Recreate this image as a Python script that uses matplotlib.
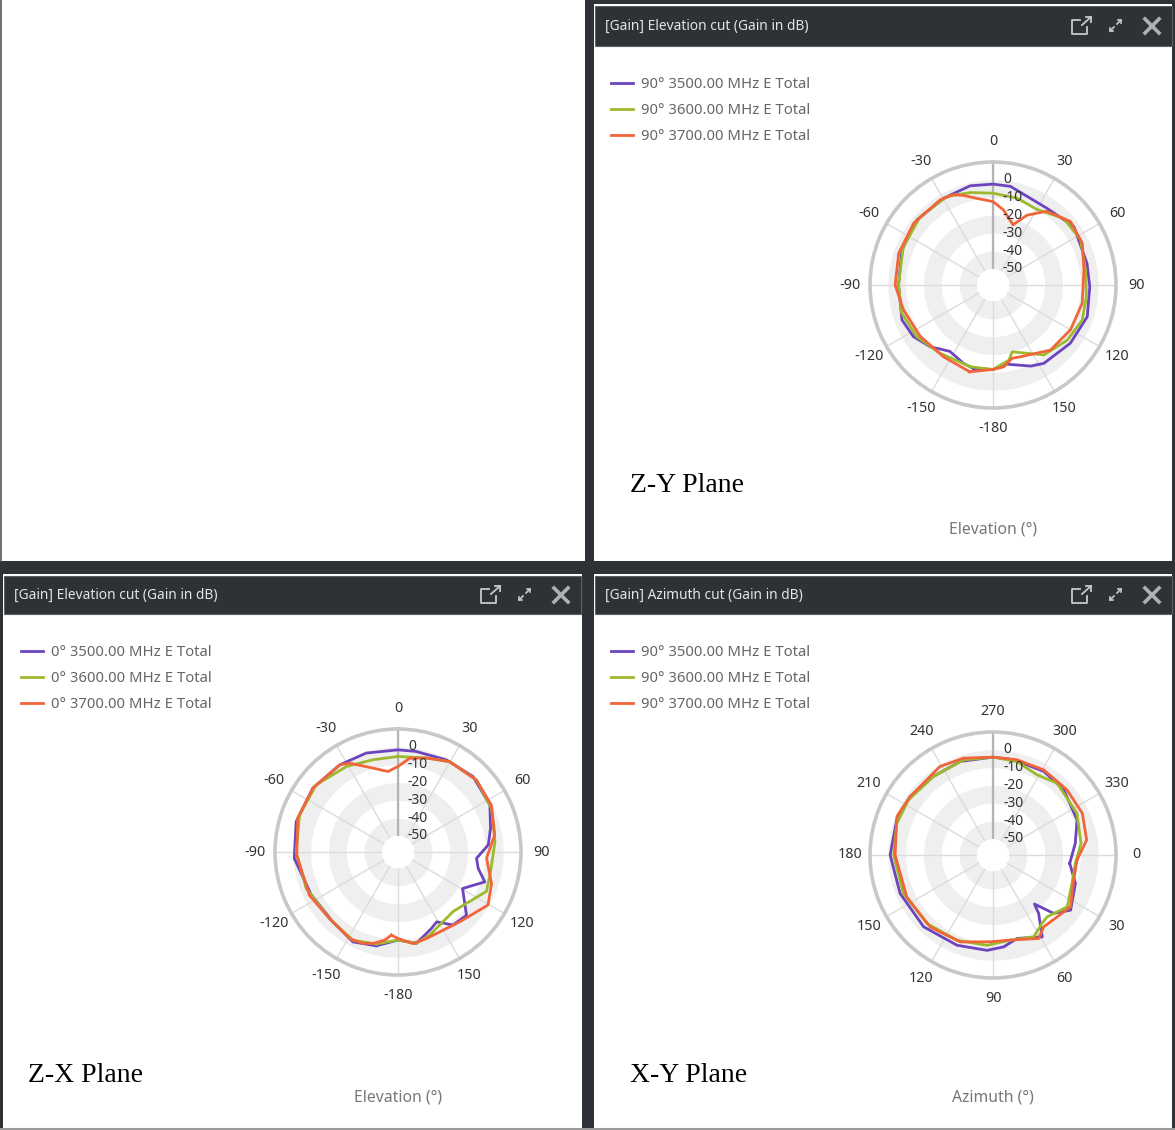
import numpy as np
import matplotlib.pyplot as plt
from matplotlib.patches import Rectangle
from matplotlib.transforms import offset_copy

# Z-Y plane (elevation cut, phi = 90), angle in deg, gain in dB
zy_ang_3500 = [-167, -159.5, -147, -134.5, -123, -111, -90, -69, -49.5, -29.6, -13, 0, 10, 35, 54, 77, 91,
               108.6, 127, 147, 155, 170, 180]
zy_gain_3500 = [-10.9, -12, -14.6, -9.6, -5.8, -4.3, -6, -4.3, -2.8, -3, -1.9, -2.4, -2.8, -6.4, -3, -4.9, -4.7,
                -3.2, -4.7, -6.6, -8.8, -13.9, -11.6]
zy_ang_3600 = [-164.5, -142, -124, -107, -90, -67, -46.8, -27.5, -13.8, 0, 15.5, 30, 46.7, 62.7, 81, 97,
               111.5, 126.6, 144, 164, 168, 180]
zy_gain_3600 = [-11.4, -10.5, -7.3, -5.4, -6, -4.3, -3, -3, -5.6, -7.5, -8.4, -10, -4.5, -3.7, -6.4, -6.2,
                -5.2, -7.1, -10.5, -20, -15.9, -11.6]
zy_ang_3700 = [-165, -145.5, -125, -105.6, -90, -71.4, -52, -31.8, -23.6, -18, -10.5, 0, 8, 18.4, 26, 36,
               50.7, 65, 80.6, 101.6, 120, 138.6, 159, 165.5, 172.5, 180]
zy_gain_3700 = [-8.6, -10.1, -9, -6.9, -4.1, -3.2, -2.6, -2.8, -3.7, -6.2, -9.6, -12.2, -16.5, -23.4, -15.4, -7.9,
                -2.8, -3.7, -7.3, -7.9, -8.8, -10.3, -15.9, -16.5, -12.7, -11.6]

# Z-X plane (elevation cut, phi = 0)
zx_ang_3500 = [-167, -153.4, -137, -116, -93.5, -73.4, -53.2, -33.8, -17.8, 0, 10, 27.7, 44.9, 62.9, 75.6,
               85.5, 94.6, 101.5, 109, 119.5, 132.7, 143, 151, 156.4, 168.6, 180]
zx_gain_3500 = [-5, -2.6, -5.4, -4.7, -0.7, 0.6, 0.7, -0.2, -0.7, -1.7, -1.7, -0.6, 0.7, -1.1, -5.4,
                -8.2, -14.8, -13.1, -7.5, -17.4, -6.7, -7.7, -14.2, -12.2, -6.7, -9.6]
zx_ang_3600 = [-166.7, -153, -134, -111.6, -90, -69.4, -50.6, -31, -15, 0, 16.8, 29.8, 47.4, 65, 84, 104,
               114, 137, 159, 168.6, 180]
zx_gain_3600 = [-6, -3.4, -5.4, -3.6, -1.9, 0, 0.4, -3, -5.4, -5.4, -3.9, -0.6, 0.7, -1.1, -4.3, -5.8,
                -4.7, -13.5, -9.2, -6.7, -9.6]
zx_ang_3700 = [-175.4, -171.4, -164.7, -159, -151, -134, -116, -91.9, -71.4, -53, -33.8, -28.6, -16.6, -7.1,
               0, 7.1, 16.8, 29.8, 47.4, 63.3, 80, 94, 108.7, 120.5, 138.5, 161.8, 170.7, 180]
zx_gain_3700 = [-12.2, -9, -5.8, -4.1, -3.4, -5.4, -3.7, -2.2, 0.4, 0.7, -0.2, -2.2, -9.9, -13.5,
                -11, -6, -3.9, -0.6, 0.7, -0.4, -3.9, -9.2, -3.6, -0.4, -6.7, -7.9, -6.9, -10.5]

# X-Y plane (azimuth cut, theta = 90)
xy_ang_3500 = [6.2, 19, 35.4, 43.9, 49.8, 52, 59, 73.9, 83.4, 93.6, 111.8, 134, 157.5, 180, 200, 215,
               232.9, 250.7, 270, 282.3, 301.3, 317.4, 337.4, 352]
xy_gain_3500 = [-15.7, -10.1, -5.6, -11.8, -23, -17.4, -5.4, -10.3, -7.1, -5.4, -4.5, -3, -2.6, -1.3, -1.5, -2.1,
                -3.7, -3.4, -4.1, -4.3, -4.1, -5, -7.9, -12.4]
xy_ang_3600 = [5.8, 22, 34.9, 48.8, 54.4, 63.5, 78.5, 93.8, 113, 134, 156.8, 180, 198, 213, 233, 252.8,
               270, 284.4, 298.8, 311.8, 333.6, 352.4]
xy_gain_3600 = [-12.5, -11.6, -8.2, -12.9, -11.8, -7.7, -10.3, -8.2, -7.1, -5.6, -4.3, -3.2, -2.2, -2.4, -3.7, -3.2,
                -4.1, -4.9, -7.7, -5, -6.4, -9.2]
xy_ang_3700 = [3.4, 17.2, 33.7, 44, 54.7, 61.3, 78.5, 91.8, 110.6, 131, 154, 180, 201.8, 215, 239, 253,
               270, 284, 300.8, 318.7, 335, 350.9]
xy_gain_3700 = [-11.8, -11.6, -6.7, -9, -9.7, -5.6, -10.3, -10.3, -6.9, -5.4, -5.2, -4.1, -0.9, -2.1, -1.1, -2.2,
                -4.1, -3.9, -3.4, -3.7, -3.7, -5.8]

elev_ticks = ['0', '30', '60', '90', '120', '150', '-180', '-150', '-120', '-90', '-60', '-30']
azim_ticks = ['0', '30', '60', '90', '120', '150', '180', '210', '240', '270', '300', '330']
r_ticks = [0, -10, -20, -30, -40, -50]
freqs = ['3500.00', '3600.00', '3700.00']
colors = ['#6c44bf', '#9dba2c', '#f0653a']

W, H = 1175, 1130
DARK = '#2e3236'
plt.rcParams['font.family'] = ['Noto Sans', 'DejaVu Sans']

fig = plt.figure(figsize=(W / 100, H / 100), dpi=100)
bg = fig.add_axes([0, 0, 1, 1], zorder=0)
bg.set_xlim(0, W)
bg.set_ylim(H, 0)
bg.axis('off')


def rect(x0, y0, x1, y1, fc, ec='none', lw=0):
    bg.add_patch(Rectangle((x0, y0), x1 - x0, y1 - y0, facecolor=fc, edgecolor=ec, linewidth=lw))


# panel frame
rect(585, 0, 594, H, DARK)
rect(0, 561, W, 574, DARK)
rect(1172, 0, W, H, DARK)
rect(594, 0, W, 4, DARK)
rect(0, 561, 3, H, DARK)
rect(582, 561, 594, H, DARK)
bg.plot([1, 1], [0, 561], color='#555', lw=1.2)
bg.plot([0, W], [1129, 1129], color='#999', lw=1.5)


def header(x0, y0, x1, y1, title):
    rect(x0, y0, x1, y1, DARK, ec='#5c6064', lw=0.8)
    yc = (y0 + y1) / 2
    bg.text(x0 + 10, yc, title, color='#e4e4e4', fontsize=9.9, va='center', ha='left')
    ic = '#c8c8c8'
    # pop-out icon
    px = x1 - 100
    bg.plot([px + 8, px, px, px + 15, px + 15], [yc - 6, yc - 6, yc + 8, yc + 8, yc + 1], color=ic, lw=1.3)
    bg.plot([px + 10, px + 19], [yc - 1, yc - 9], color=ic, lw=1.3)
    bg.plot([px + 14, px + 19, px + 19], [yc - 9, yc - 9, yc - 4], color=ic, lw=1.3)
    # expand icon
    ex = x1 - 62
    bg.plot([ex, ex + 4], [yc + 5, yc + 1], color=ic, lw=1.2)
    bg.plot([ex, ex, ex + 3], [yc + 2, yc + 5, yc + 5], color=ic, lw=1.2)
    bg.plot([ex + 7, ex + 11], [yc - 2, yc - 6], color=ic, lw=1.2)
    bg.plot([ex + 8, ex + 11, ex + 11], [yc - 6, yc - 6, yc - 3], color=ic, lw=1.2)
    # close icon
    cx = x1 - 20
    bg.plot([cx - 7, cx + 7], [yc - 7, yc + 7], color='#b0b0b0', lw=2.6)
    bg.plot([cx - 7, cx + 7], [yc + 7, yc - 7], color='#b0b0b0', lw=2.6)


def legend(x, y, prefix):
    for i, (f, c) in enumerate(zip(freqs, colors)):
        yy = y + 26 * i
        bg.plot([x, x + 22], [yy, yy], color=c, lw=2)
        bg.text(x + 30, yy + 1, f'{prefix}° {f} MHz E Total', color='#666666', fontsize=10.7,
                va='center', ha='left')


def polar(cx, cy, series, zero, ticks, top):
    R = 123
    ax = fig.add_axes([(cx - R) / W, (H - cy - R) / H, 2 * R / W, 2 * R / H],
                      projection='polar', zorder=2)
    ax.set_theta_zero_location(zero)
    ax.set_theta_direction(-1)
    ax.set_ylim(-50, 10)
    ax.set_rorigin(-59)
    ax.set_facecolor('white')
    ax.patch.set_edgecolor('none')
    th = np.linspace(0, 2 * np.pi, 361)
    for lo in (-10, -30, -50):
        ax.fill_between(th, lo, lo + 10, color='#efefef', lw=0, zorder=0)
    ax.set_xticks(np.deg2rad(np.arange(0, 360, 30)))
    ax.set_xticklabels(ticks, fontsize=10.3, color='#333333')
    ax.tick_params(axis='x', pad=7.5, length=0)
    ax.xaxis.grid(True, color='#dcdcdc', lw=1)
    ax.set_yticks([])
    ax.spines['polar'].set_color('#c8c8c8')
    ax.spines['polar'].set_linewidth(2.6)
    ax.spines['inner'].set_color('none')
    ax.spines['inner'].set_visible(False)
    t0 = np.deg2rad(top)
    ax.plot([t0, t0], [-50, 10], color='#b4b4b4', lw=1.6, zorder=1.6)
    tr = offset_copy(ax.transData, fig=fig, x=10, y=0, units='dots')
    for v in r_ticks:
        ax.text(t0, v, str(v), transform=tr, ha='left', va='center', fontsize=10, color='#333333', zorder=5)
    for (a, g), c in zip(series, colors):
        a = np.deg2rad(np.r_[a, a[0] + 360])
        g = np.r_[g, g[0]]
        ax.plot(a, g, color=c, lw=2, zorder=3)
    return ax


# top-right: Z-Y plane
header(595, 6, 1172, 46, '[Gain] Elevation cut (Gain in dB)')
legend(611, 83, '90')
polar(993, 285, [(zy_ang_3500, zy_gain_3500), (zy_ang_3600, zy_gain_3600), (zy_ang_3700, zy_gain_3700)],
      'N', elev_ticks, 0)
bg.text(630, 485, 'Z-Y Plane', family='Liberation Serif', fontsize=20, va='center', ha='left')
bg.text(993, 530, 'Elevation (°)', color='#777777', fontsize=11.3, va='center', ha='center')

# bottom-left: Z-X plane
header(4, 576, 581, 614, '[Gain] Elevation cut (Gain in dB)')
legend(21, 651, '0')
polar(398, 852, [(zx_ang_3500, zx_gain_3500), (zx_ang_3600, zx_gain_3600), (zx_ang_3700, zx_gain_3700)],
      'N', elev_ticks, 0)
bg.text(28, 1076, 'Z-X Plane', family='Liberation Serif', fontsize=20, va='center', ha='left')
bg.text(398, 1098, 'Elevation (°)', color='#777777', fontsize=11.3, va='center', ha='center')

# bottom-right: X-Y plane
header(595, 576, 1172, 614, '[Gain] Azimuth cut (Gain in dB)')
legend(611, 651, '90')
polar(993, 855, [(xy_ang_3500, xy_gain_3500), (xy_ang_3600, xy_gain_3600), (xy_ang_3700, xy_gain_3700)],
      'E', azim_ticks, 270)
bg.text(630, 1076, 'X-Y Plane', family='Liberation Serif', fontsize=20, va='center', ha='left')
bg.text(993, 1098, 'Azimuth (°)', color='#777777', fontsize=11.3, va='center', ha='center')

fig.savefig('out.png', dpi=100)
